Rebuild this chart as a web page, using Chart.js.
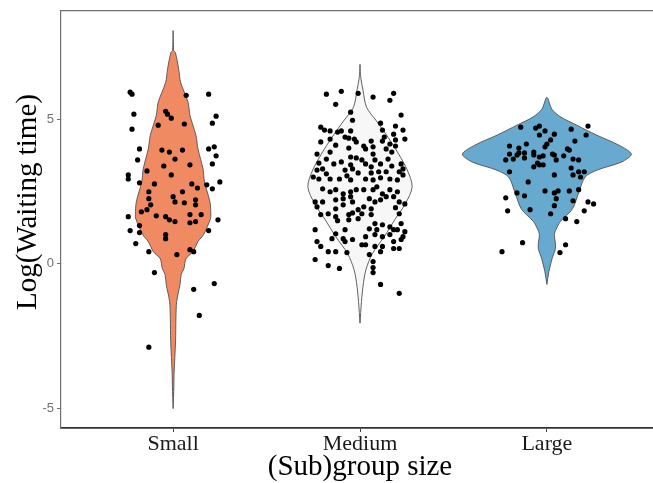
<!DOCTYPE html>
<html>
<head>
<meta charset="utf-8">
<script src="https://cdn.jsdelivr.net/npm/chart.js@4.4.0/dist/chart.umd.min.js"></script>
<style>
  html, body { margin: 0; padding: 0; background: #fff; }
  /* the panel runs a little past the right edge of the picture */
  #wrap { width: 653px; height: 483px; overflow: hidden; }
</style>
</head>
<body>
<div id="wrap"><canvas id="chart" width="663" height="483"></canvas></div>
<script>
// categories / axis
const groups = ['Small', 'Medium', 'Large'];
const yTicks = [-5, 0, 5];
const groupFills = ['#ef8a62', '#f7f7f7', '#67a9cf'];

// violin outlines: levels of log(waiting time) and half width (category units)
const smallLevels = [-5.0, -4.22, -3.81, -2.67, -1.88, -1.30, -0.71, -0.37, -0.16, 0.18, 0.42, 0.77, 1.01, 1.56, 1.70, 2.14, 2.83, 3.28, 3.97, 4.44, 5.13, 5.58, 6.27, 6.72, 7.30, 7.37, 8.06];
const smallWidths = [0, 0.004, 0.005, 0.013, 0.015, 0.019, 0.037, 0.043, 0.058, 0.069, 0.106, 0.133, 0.163, 0.2, 0.202, 0.197, 0.168, 0.16, 0.133, 0.122, 0.09, 0.08, 0.04, 0.03, 0.012, 0.003, 0];

const mediumLevels = [-2.05, -1.30, -0.78, -0.20, 0.35, 0.94, 1.52, 2.07, 2.66, 3.24, 3.79, 4.38, 4.96, 5.41, 6.00, 6.44, 6.89];
const mediumWidths = [0, 0.008, 0.016, 0.032, 0.066, 0.130, 0.186, 0.242, 0.279, 0.253, 0.207, 0.149, 0.085, 0.035, 0.016, 0.004, 0];

const largeLevels = [-0.71, -0.26, 0.18, 0.53, 0.75, 1.01, 1.20, 1.46, 1.90, 2.49, 3.00, 3.24, 3.52, 3.79, 4.10, 4.45, 4.79, 5.07, 5.34, 5.75];
const largeWidths = [0, 0.011, 0.028, 0.046, 0.045, 0.040, 0.05, 0.072, 0.137, 0.172, 0.205, 0.27, 0.40, 0.452, 0.385, 0.265, 0.16, 0.075, 0.027, 0];

// observations: horizontal jitter and log(waiting time)
const smallJitter = [-0.23,-0.22,0.07,0.19,-0.21,-0.04,-0.03,-0.01,-0.08,0.06,
  0.23,0.21,-0.22,-0.18,-0.19,-0.06,-0.02,0.05,0.01,-0.05,
  0.09,0.19,0.22,0.23,0.21,-0.24,-0.24,-0.14,-0.01,-0.18,
  -0.10,0.10,0.13,0.18,0.25,0.21,-0.13,-0.13,-0.12,0.00,
  0.05,0.01,0.06,0.12,0.12,-0.17,-0.14,-0.24,-0.09,-0.04,
  -0.02,0.01,0.09,0.15,0.09,0.12,0.24,-0.23,-0.18,-0.18,
  -0.04,-0.04,0.19,-0.20,-0.13,0.02,0.09,0.11,-0.10,0.11,
  0.22,0.14,-0.13];
const smallValues = [5.93,5.86,5.82,5.86,5.17,5.27,5.17,5.03,4.79,4.83,
  5.10,4.86,4.65,3.97,3.59,3.93,3.86,3.93,3.62,3.38,
  3.42,3.97,4.04,3.73,3.45,3.07,2.93,3.21,3.07,2.80,
  2.76,2.76,2.62,2.73,2.83,2.59,2.49,2.25,2.04,2.32,
  2.49,2.14,2.11,2.21,2.04,1.80,1.87,1.63,1.66,1.63,
  1.52,1.46,1.70,1.70,1.42,1.46,1.52,1.15,1.32,1.08,
  1.01,0.87,1.15,0.70,0.42,0.32,0.49,0.42,-0.30,-0.88,
  -0.68,-1.78,-2.88];

const mediumJitter = [-0.18,-0.10,-0.01,0.07,0.18,0.16,-0.13,-0.05,0.22,-0.04,
  0.11,-0.21,-0.19,-0.16,-0.12,-0.10,-0.05,0.12,0.19,0.23,
  0.18,-0.08,-0.06,-0.03,-0.02,-0.16,-0.21,0.13,0.12,0.19,
  0.24,0.06,-0.13,-0.06,0.02,0.03,0.07,0.14,0.16,0.19,
  0.17,-0.16,-0.23,-0.05,-0.02,0.01,0.07,0.08,0.15,-0.22,
  -0.18,-0.14,-0.10,-0.05,0.03,0.06,0.11,0.17,0.22,0.23,
  -0.23,-0.20,-0.18,-0.08,-0.04,-0.01,0.06,0.10,0.14,0.21,
  0.23,-0.25,-0.22,-0.16,-0.11,-0.07,-0.05,0.03,0.07,0.11,
  0.16,0.20,0.09,-0.20,-0.16,-0.13,-0.09,-0.05,-0.02,0.02,
  0.07,0.12,0.16,0.20,-0.24,-0.20,-0.13,-0.09,-0.05,-0.04,
  0.05,0.08,0.11,0.14,0.18,0.21,0.24,-0.23,-0.13,-0.09,
  -0.01,0.02,0.06,0.19,-0.21,-0.17,-0.13,-0.06,-0.04,0.01,
  0.06,0.21,-0.12,-0.06,-0.01,0.08,0.12,0.16,0.22,0.05,
  0.09,-0.24,-0.08,-0.13,0.18,0.20,0.24,0.03,0.08,0.12,
  0.16,0.23,-0.15,-0.09,-0.04,-0.08,-0.23,0.18,0.22,-0.21,
  0.01,0.03,0.08,0.12,0.18,0.21,-0.17,-0.13,-0.07,0.05,
  0.11,-0.24,0.07,-0.17,-0.11,0.07,0.07,0.11,0.21];
const mediumValues = [5.86,5.96,5.89,5.76,5.89,5.65,5.51,5.24,5.14,4.96,
  4.86,4.72,4.62,4.59,4.55,4.59,4.59,4.62,4.76,4.62,
  4.48,4.38,4.34,4.31,4.21,4.31,4.21,4.38,4.24,4.28,
  4.31,4.24,4.10,4.00,4.07,3.97,4.04,3.97,4.14,4.07,
  3.86,3.86,3.79,3.69,3.66,3.59,3.79,3.59,3.62,3.48,
  3.62,3.45,3.52,3.42,3.45,3.35,3.45,3.38,3.45,3.28,
  3.24,3.28,3.11,3.24,3.28,3.14,3.14,3.18,3.18,3.18,
  3.07,3.00,2.93,2.93,2.93,3.04,2.90,2.93,2.90,2.97,
  2.93,2.90,2.66,2.59,2.49,2.56,2.42,2.49,2.56,2.56,
  2.56,2.42,2.56,2.49,2.14,2.14,2.21,2.25,2.32,2.14,
  2.25,2.14,2.21,2.32,2.32,2.14,2.07,1.97,1.90,2.04,
  1.87,1.97,1.90,1.94,1.70,1.73,1.63,1.70,1.76,1.73,
  1.70,1.73,1.49,1.52,1.56,1.39,1.35,1.28,1.39,1.21,
  1.18,1.18,1.18,1.04,1.18,1.18,1.11,0.94,1.01,0.94,
  1.01,0.94,0.87,0.87,0.84,0.77,0.77,0.77,0.84,0.60,
  0.66,0.66,0.60,0.60,0.53,0.53,0.42,0.42,0.39,0.32,
  0.42,0.15,0.08,-0.06,-0.16,-0.13,-0.30,-0.71,-1.02];

const largeJitter = [-0.14,-0.06,-0.04,-0.01,-0.04,0.04,0.13,0.22,0.21,0.02,
  0.00,0.15,-0.20,-0.15,-0.11,-0.01,0.11,-0.20,-0.16,-0.15,
  -0.12,-0.07,-0.07,-0.04,0.03,0.04,0.09,0.12,-0.22,-0.18,
  -0.12,-0.02,-0.05,-0.04,-0.07,-0.02,0.05,0.14,0.17,0.13,
  -0.20,0.04,0.14,0.17,0.20,0.18,-0.10,-0.16,-0.12,-0.01,
  0.04,0.06,0.12,0.17,-0.22,0.05,0.14,0.22,0.25,-0.21,
  -0.09,0.04,0.02,0.20,0.10,0.16,-0.13,0.10,-0.24,0.07];
const largeValues = [4.72,4.69,4.76,4.59,4.45,4.48,4.65,4.76,4.45,4.28,
  4.14,4.24,4.07,4.00,4.14,4.04,3.97,3.79,3.76,3.83,
  3.83,3.86,3.76,3.69,3.79,3.76,3.73,3.93,3.59,3.62,
  3.66,3.73,3.48,3.42,3.35,3.42,3.59,3.62,3.59,3.31,
  3.18,3.07,3.07,3.18,3.18,3.00,2.83,2.45,2.35,2.52,
  2.45,2.52,2.52,2.56,2.28,2.25,2.18,2.14,2.07,1.83,
  1.87,2.01,1.73,1.83,1.56,1.46,0.73,0.66,0.42,0.39];

const violins = [
  [smallLevels, smallWidths],
  [mediumLevels, mediumWidths],
  [largeLevels, largeWidths]
];
const samples = [
  [smallJitter, smallValues],
  [mediumJitter, mediumValues],
  [largeJitter, largeValues]
];

// closed outline: right side bottom -> top, then left side back down
function violinPath(center, levels, widths) {
  const right = levels.map((y, i) => ({ x: center + widths[i], y: y }));
  const left = levels.map((y, i) => ({ x: center - widths[i], y: y })).reverse();
  return right.concat(left.slice(1));
}

const datasets = [];
samples.forEach(([jit, vals], g) => {
  datasets.push({
    type: 'scatter',
    data: vals.map((v, i) => ({ x: g + jit[i], y: v })),
    pointRadius: 2.6,
    pointBackgroundColor: '#000',
    pointBorderWidth: 0,
    order: 1
  });
});
violins.forEach(([levels, widths], g) => {
  datasets.push({
    type: 'scatter',
    data: violinPath(g, levels, widths),
    showLine: true,
    fill: 'shape',
    backgroundColor: groupFills[g],
    borderColor: '#505050',
    borderWidth: 0.9,
    pointRadius: 0,
    tension: 0.3,
    order: 2
  });
});

const serif = 'Liberation Serif, Times New Roman, serif';
const xMin = -0.6, xMax = 2.6;
const yTitle = 'Log(Waiting time)';

// y title sits a bit above the panel centre in the original
const yTitlePlugin = {
  id: 'yTitle',
  afterDraw(chart) {
    const ctx = chart.ctx;
    ctx.save();
    ctx.translate(28, 202);
    ctx.rotate(-Math.PI / 2);
    ctx.font = '29px ' + serif;
    ctx.fillStyle = '#000';
    ctx.textAlign = 'center';
    ctx.textBaseline = 'middle';
    ctx.fillText(yTitle, 0, 0);
    ctx.restore();
  }
};

new Chart(document.getElementById('chart'), {
  type: 'scatter',
  data: { datasets: datasets },
  plugins: [yTitlePlugin],
  options: {
    responsive: false,
    animation: false,
    layout: { padding: { top: 9, right: 0, bottom: 0, left: 0 } },
    plugins: { legend: { display: false }, tooltip: { enabled: false } },
    scales: {
      x: {
        type: 'linear', position: 'bottom', min: xMin, max: xMax,
        afterBuildTicks: s => { s.ticks = groups.map((g, i) => ({ value: i })); },
        afterFit: s => { s.height = 55; },
        ticks: {
          callback: v => groups[v],
          color: '#1a1a1a',
          font: { family: serif, size: 22 },
          padding: -1, maxRotation: 0, autoSkip: false
        },
        grid: { display: true, drawOnChartArea: false, drawTicks: true, tickLength: 4, tickColor: '#444' },
        border: { display: true, color: '#333', width: 1.8 },
        title: {
          display: true, text: '(Sub)group size', color: '#000',
          font: { family: serif, size: 29 },
          padding: { top: 0, bottom: -2 }
        }
      },
      xTop: {
        type: 'linear', position: 'top', min: xMin, max: xMax,
        ticks: { display: false },
        grid: { display: false, drawTicks: false },
        border: { display: true, color: '#707070', width: 1.2 }
      },
      y: {
        type: 'linear', min: -5.67, max: 8.74,
        afterBuildTicks: s => { s.ticks = yTicks.map(v => ({ value: v })); },
        afterFit: s => { s.width = 61; },
        ticks: {
          color: '#707070',
          font: { family: 'Liberation Sans, Arial, sans-serif', size: 13 },
          padding: 3
        },
        grid: { display: true, drawOnChartArea: false, drawTicks: true, tickLength: 4, tickColor: '#707070' },
        border: { display: true, color: '#707070', width: 1.2 },
        title: { display: false }
      }
    }
  }
});
</script>
</body>
</html>
